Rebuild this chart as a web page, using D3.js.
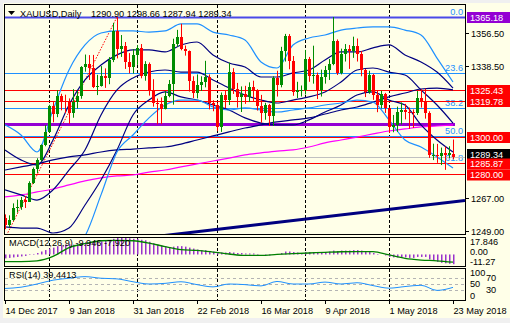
<!DOCTYPE html>
<html><head><meta charset="utf-8">
<script src="https://cdnjs.cloudflare.com/ajax/libs/d3/7.8.5/d3.min.js"></script>
<style>
body{margin:0;background:#f0f0f0}
svg{display:block}
text{font-family:"Liberation Sans",Arial,sans-serif;font-size:9.2px}
</style></head>
<body><svg id="c" width="510" height="323"></svg>
<script>
// ---- chart data -------------------------------------------------------
const symbol = "XAUUSD,Daily";
const quote = ["1290.90","1298.66","1287.94","1289.34"];
const dateLabels = ["14 Dec 2017","9 Jan 2018","31 Jan 2018","22 Feb 2018","16 Mar 2018","9 Apr 2018","1 May 2018","23 May 2018"];
const dateLabelBars = [0,16,32,48,64,80,96,112];
const monthStartBars = [11,33,53,75,96];

const opens = [1256.0,1252.5,1255.2,1261.5,1262.0,1265.8,1265.0,1274.8,1282.5,1287.5,1295.5,1302.8,1316.8,1312.5,1322.5,1319.8,1319.2,1312.8,1318.8,1322.5,
1338.0,1339.5,1337.5,1327.0,1327.6,1332.9,1332.2,1341.9,1357.6,1348.0,1349.3,1340.7,1338.1,1344.8,1348.3,1333.1,1339.6,1325.8,1318.3,1318.0,
1315.5,1322.2,1329.0,1350.5,1354.5,1347.6,1346.6,1330.5,1324.0,1328.5,1330.0,1332.5,1318.5,1317.5,1305.5,1323.0,1320.0,1335.5,1326.0,1321.5,
1323.6,1321.6,1327.4,1325.4,1317.1,1313.3,1317.4,1311.4,1332.0,1328.0,1346.8,1354.8,1341.5,1324.7,1325.4,1325.6,1342.6,1333.1,1333.6,1325.8,
1332.4,1336.4,1339.6,1352.4,1334.6,1345.2,1347.8,1346.8,1349.6,1345.3,1336.3,1324.2,1333.5,1322.9,1317.4,1323.3,1315.6,1305.4,1306.5,1313.6,
1314.6,1313.8,1313.5,1313.0,1321.4,1319.7,1313.0,1290.3,1290.5,1289.9,1291.1,1290.0,1290.9];
const highs = [1258.0,1257.5,1264.0,1266.0,1267.5,1268.0,1276.0,1283.5,1288.5,1296.0,1306.5,1317.5,1319.0,1325.5,1323.5,1323.0,1321.0,1326.0,1325.0,1338.5,
1344.8,1344.5,1344.6,1333.8,1338.5,1337.3,1343.4,1362.0,1365.2,1355.4,1351.6,1345.6,1347.8,1350.0,1350.5,1341.2,1340.5,1331.4,1320.9,1321.5,
1325.0,1331.0,1353.4,1358.2,1361.5,1349.7,1347.0,1333.0,1334.0,1333.0,1341.4,1334.0,1320.0,1318.6,1324.2,1325.0,1340.4,1337.4,1329.4,1327.5,
1327.8,1329.7,1330.6,1326.0,1322.9,1318.6,1318.0,1333.0,1336.0,1349.0,1356.0,1355.9,1344.0,1330.0,1328.0,1347.3,1343.5,1349.6,1335.0,1336.6,
1338.6,1342.4,1365.2,1353.0,1348.0,1350.5,1350.0,1354.5,1353.5,1346.7,1337.0,1336.0,1334.3,1325.0,1325.2,1324.0,1316.0,1312.0,1316.5,1318.8,
1318.0,1316.0,1315.0,1325.0,1326.0,1326.3,1314.0,1296.4,1296.3,1294.3,1294.8,1295.0,1298.66];
const lows = [1250.0,1251.0,1254.5,1259.0,1260.5,1261.5,1264.8,1274.5,1280.5,1286.8,1295.0,1302.5,1308.0,1310.8,1314.5,1313.0,1307.2,1310.5,1315.5,1320.8,
1335.5,1331.0,1326.6,1322.8,1327.4,1326.7,1328.7,1340.7,1342.7,1343.5,1337.0,1334.6,1334.5,1339.2,1331.9,1330.6,1322.5,1316.5,1306.9,1307.0,
1315.0,1321.6,1317.6,1349.0,1347.1,1344.2,1324.7,1321.2,1321.0,1325.0,1327.0,1315.0,1314.0,1303.3,1302.8,1315.7,1317.4,1323.4,1316.0,1313.6,
1318.0,1319.0,1319.6,1314.4,1307.8,1309.4,1306.0,1306.0,1322.0,1327.0,1341.0,1336.8,1322.4,1321.2,1322.0,1323.1,1330.0,1329.0,1320.6,1322.0,
1329.0,1331.0,1339.0,1333.7,1334.0,1341.0,1337.0,1343.0,1341.0,1333.0,1321.7,1323.5,1320.2,1313.5,1315.6,1313.1,1302.3,1302.6,1302.8,1306.8,
1309.6,1304.5,1305.0,1312.0,1316.0,1310.0,1288.7,1287.5,1286.0,1284.8,1282.2,1288.6,1287.94];
const closes = [1252.0,1255.2,1261.5,1262.0,1265.8,1265.0,1274.8,1282.5,1287.5,1295.5,1302.8,1316.8,1312.5,1322.5,1319.8,1319.2,1312.8,1318.8,1322.5,1338.0,
1339.5,1337.5,1327.0,1327.6,1332.9,1332.2,1341.9,1357.6,1348.0,1349.3,1340.7,1338.1,1344.8,1348.3,1333.1,1339.6,1325.8,1318.3,1318.0,1315.5,
1322.2,1329.0,1350.5,1354.5,1347.6,1346.6,1330.5,1324.0,1328.5,1330.0,1332.5,1318.5,1317.5,1305.5,1323.0,1320.0,1335.5,1326.0,1321.5,1323.6,
1321.6,1327.4,1325.4,1317.1,1313.3,1317.4,1311.4,1332.0,1328.0,1346.8,1354.8,1341.5,1324.7,1325.4,1325.6,1342.6,1333.1,1333.6,1325.8,1332.4,
1336.4,1339.6,1352.4,1334.6,1345.2,1347.8,1346.8,1349.6,1345.3,1336.3,1324.2,1333.5,1322.9,1317.4,1323.3,1315.6,1305.4,1306.5,1313.6,1314.6,
1313.8,1313.5,1313.0,1321.4,1319.7,1313.0,1290.3,1290.5,1289.9,1291.1,1290.0,1291.5,1289.34];

// indicator lines, one value every 4th bar (bars 0,4,...,112)
const lineStep = 4;
const bandUpperBlue = [1306.6,1301.1,1291.9,1314.7,1336.4,1350.0,1356.5,1357.6,1357.6,1357.0,1357.6,1361.4,1361.4,1357.0,1355.4,1352.7,1340.8,1337.5,1350.0,1353.8,1355.4,1358.1,1359.2,1359.8,1359.8,1358.1,1355.4,1342.9,1329.9];
const bandLowerBlue = [1238.7,1238.7,1237.6,1236.0,1238.7,1246.3,1268.6,1291.9,1301.1,1310.4,1317.4,1320.1,1320.1,1316.3,1314.7,1315.8,1314.7,1313.6,1314.7,1315.8,1317.4,1318.5,1320.1,1319.0,1309.3,1298.4,1294.6,1289.2,1283.2];
const bandUpperNavy = [1293.0,1287.6,1284.8,1298.4,1317.4,1331.0,1339.1,1344.6,1347.3,1347.3,1346.2,1350.0,1351.6,1344.6,1340.2,1338.0,1332.6,1332.6,1334.8,1336.4,1341.8,1346.2,1346.2,1348.4,1350.0,1344.6,1340.8,1335.3,1326.6];
const bandMidNavy = [1271.3,1268.6,1265.8,1271.3,1282.1,1293.0,1312.0,1325.6,1332.1,1335.3,1336.4,1335.3,1335.3,1331.0,1326.6,1322.8,1320.1,1318.5,1320.1,1321.8,1324.5,1329.9,1336.4,1337.5,1335.3,1333.7,1325.6,1317.4,1307.6];
const bandLowerNavy = [1251.2,1250.6,1250.6,1247.9,1250.6,1263.1,1276.7,1293.0,1312.0,1320.1,1324.5,1321.8,1320.1,1317.4,1314.7,1310.4,1307.6,1306.6,1306.6,1309.3,1313.6,1317.4,1322.8,1324.5,1320.1,1317.4,1306.6,1298.4,1291.9];
const maSlowNavy = [1282.1,1283.8,1285.4,1287.6,1289.2,1290.3,1291.9,1293.0,1293.5,1294.1,1294.6,1296.2,1298.4,1300.6,1302.8,1304.9,1306.6,1308.2,1309.3,1310.4,1312.5,1314.7,1316.3,1319.0,1321.8,1323.9,1326.1,1326.6,1325.6];
const maLongMagenta = [1267.5,1268.6,1270.2,1271.8,1274.0,1276.2,1277.8,1278.9,1279.4,1281.0,1282.1,1283.8,1285.4,1287.0,1288.6,1290.3,1291.4,1292.4,1293.0,1294.6,1296.8,1298.4,1300.0,1301.7,1303.3,1304.4,1305.5,1306.0,1306.6];

// drawn objects
const fiboLow = {bar:-2, price:1236.5};
const fiboHigh = {bar:28, price:1365.18};
const fiboLevels = [0, 23.6, 38.2, 50.0, 61.8];
const supportResistance = [1325.43, 1319.78, 1300.00, 1285.87, 1280.00];
const violetLevel = 1307.1;
const violetLevelEndBar = 112.5;
const trendStart = {bar:-2, price:1236.0};
const trendEnd = {bar:115, price:1265.5};
const priceTicks = ["1356.50","1338.50","1267.00","1249.00"];

// MACD(12,26,9)
const macdLabel = "MACD(12,26,9) -9.946 -7.920";
const macdMain = [-4,-3.5,-3,-2.5,-2,-1.5,-0.5,0.5,1.5,3,4.5,6,7,8.5,9.5,10,10.5,10,10.5,11.5,12.5,13,13,13,13.5,14,14.5,16,17,17.5,17,16.5,16,16,15,14.5,13,11.5,10,9,8,
7.5,8,8.5,8.5,8,7,6,5,4.5,4.5,3.5,3,2,2,2,2.5,2,1.5,1.5,1,1,1,0.5,0,-0.5,-1,0,0.5,1.5,3,3,2.5,2,1.5,2.5,2.5,2.5,2,2,2.5,
3,4,3.5,4,4,4,4.5,4.5,4,3,2.5,1.5,0.5,0,-1,-2.5,-3,-3,-3,-3,-3.5,-3.5,-2.5,-2.5,-2.5,-5,-6.5,-7.5,-8.5,-9,-9.5,-9.946];
const macdSignal = [-7.3,-7.3,-6.5,-2,7,11,14,14.5,14,11.7,8,5,4.2,2.5,0.5,-1,-1,0,0.8,1.5,2.2,2.8,3,2.9,-0.5,-4,-5.7,-6.5,-7.92];
const macdTicks = ["17.846","0.00","-11.27"];
const macdRange = [-11.27, 17.846];

// RSI(14)
const rsiLabel = "RSI(14) 39.4413";
const rsi = [36,40,50,62,68,73,68,66,57,50,52,57,48,41,50,48,44,58,50,50,56,50,54,45,37,42,46,30,39.44];
const rsiLevels = [70,50,30];
const rsiTicks = ["100","70","50","30","0"];

// ---- layout -----------------------------------------------------------
const svg = d3.select("#c");
const P = {l:4, r:465, t:4, b:234};
const M = {t:237, b:266};
const R = {t:268, b:300};
const BG = "#ffffe8";
const BLUE = "#1e90ff", NAVY = "#000080", RED = "#ff0000", GREEN = "#008c00";

const x = d3.scaleLinear().domain([0,112]).range([5,453]);
const y = d3.scaleLinear().domain([1247.37,1372.24]).range([P.b,P.t]);
const ym = d3.scaleLinear().domain(macdRange).range([M.b-0.5, M.t]);
const yr = d3.scaleLinear().domain([0,100]).range([R.b, R.t]);

svg.append("rect").attr("x",3).attr("y",3).attr("width",507).attr("height",315).attr("fill",BG);

const defs = svg.append("defs");
defs.append("clipPath").attr("id","cm").append("rect").attr("x",P.l+1).attr("y",P.t+1).attr("width",P.r-P.l-1).attr("height",P.b-P.t-1);
defs.append("clipPath").attr("id","cd").append("rect").attr("x",P.l+1).attr("y",M.t+1).attr("width",P.r-P.l-1).attr("height",M.b-M.t-1);

// month separators through all panels
const sep = svg.append("g").attr("stroke","#000").attr("stroke-dasharray","3,2").attr("stroke-width",1);
monthStartBars.forEach(b=>{
  const xx = Math.round(x(b))+0.5;
  [[P.t,P.b],[M.t,M.b],[R.t,R.b]].forEach(([a,c])=>sep.append("line").attr("x1",xx).attr("x2",xx).attr("y1",a+1).attr("y2",c));
});

const gm = svg.append("g").attr("clip-path","url(#cm)");
const hline = (p,col,w,x2) => gm.append("line").attr("x1",P.l).attr("x2",x2||P.r).attr("y1",Math.round(y(p))+0.5).attr("y2",Math.round(y(p))+0.5).attr("stroke",col).attr("stroke-width",w);

// fibonacci retracement
const fibRange = fiboHigh.price - fiboLow.price;
fiboLevels.forEach(l=>{
  const p = fiboHigh.price - fibRange*l/100;
  hline(p, l===0 ? "#4a4ae8" : BLUE, l===0 ? 2 : 1);
  gm.append("text").attr("x",P.r-2).attr("y",y(p)-2).attr("text-anchor","end").attr("fill",BLUE).attr("font-size","10px").text(l.toFixed(1));
});
gm.append("line").attr("x1",x(fiboLow.bar)).attr("y1",y(fiboLow.price)).attr("x2",x(fiboHigh.bar)).attr("y2",y(fiboHigh.price))
  .attr("stroke",RED).attr("stroke-dasharray","1.5,1.5");

supportResistance.forEach(p=>hline(p,RED,1));
hline(+quote[3], "#c0c0c0", 1);
hline(violetLevel, "#9400d3", 3, x(violetLevelEndBar));

// moving averages & bands
const lineGen = d3.line().x((d,i)=>x(i*lineStep)).y(d=>y(d)).curve(d3.curveMonotoneX);
[[maLongMagenta,"#ff00ff",1.2],[maSlowNavy,NAVY,1.2],[bandUpperNavy,NAVY,1.2],[bandMidNavy,NAVY,1.2],[bandLowerNavy,NAVY,1.2],
 [bandUpperBlue,BLUE,1.2],[bandLowerBlue,BLUE,1.2]].forEach(([d,c,w])=>{
  gm.append("path").attr("d",lineGen(d)).attr("fill","none").attr("stroke",c).attr("stroke-width",w);
});

// long trend line
gm.append("line").attr("x1",x(trendStart.bar)).attr("y1",y(trendStart.price)).attr("x2",x(trendEnd.bar)).attr("y2",y(trendEnd.price))
  .attr("stroke",NAVY).attr("stroke-width",3);

// candles
const candles = gm.append("g");
closes.forEach((c,i)=>{
  const o=opens[i], h=highs[i], l=lows[i];
  const col = c>=o ? GREEN : RED;
  const cx = Math.round(x(i));
  candles.append("line").attr("x1",cx+0.5).attr("x2",cx+0.5).attr("y1",y(h)).attr("y2",y(l)).attr("stroke",col);
  const top = Math.round(y(Math.max(o,c))), bot = Math.round(y(Math.min(o,c)));
  candles.append("rect").attr("x",cx-1).attr("y",top).attr("width",3).attr("height",Math.max(1,bot-top)).attr("fill",col);
});

// MACD
const gd = svg.append("g").attr("clip-path","url(#cd)");
macdMain.forEach((v,i)=>{
  const cx = Math.round(x(i));
  gd.append("rect").attr("x",cx).attr("width",1.5).attr("y",Math.min(ym(0),ym(v))).attr("height",Math.abs(ym(v)-ym(0))).attr("fill","#9932cc");
});
gd.append("path").attr("d",d3.line().x((d,i)=>x(i*lineStep)).y(d=>ym(d)).curve(d3.curveMonotoneX)(macdSignal))
  .attr("fill","none").attr("stroke","#008000").attr("stroke-width",1.3);

// RSI
const gr = svg.append("g");
rsiLevels.forEach(v=>gr.append("line").attr("x1",P.l+1).attr("x2",P.r).attr("y1",Math.round(yr(v))+0.5).attr("y2",Math.round(yr(v))+0.5)
  .attr("stroke","#b4b4b4").attr("stroke-dasharray","3,3"));
gr.append("path").attr("d",d3.line().x((d,i)=>x(i*lineStep)).y(d=>yr(d)).curve(d3.curveMonotoneX)(rsi))
  .attr("fill","none").attr("stroke",BLUE).attr("stroke-width",1);

// panel borders
[[P.t,P.b],[M.t,M.b],[R.t,R.b]].forEach(([a,c])=>svg.append("rect").attr("x",P.l+0.5).attr("y",a+0.5).attr("width",P.r-P.l).attr("height",c-a)
  .attr("fill","none").attr("stroke","#000"));

// price axis
const ax = svg.append("g");
priceTicks.forEach(t=>{
  const yy = Math.round(y(+t))+0.5;
  ax.append("line").attr("x1",P.r).attr("x2",P.r+4).attr("y1",yy).attr("y2",yy).attr("stroke","#000");
  ax.append("text").attr("x",P.r+6).attr("y",yy).attr("dy","0.35em").text(t);
});
// value tags on the price scale; the last-price tag sits just above the tag that covers it
const tag = (p,fill,label,shift) => {
  const yy = Math.round(y(p)) + (shift||0);
  ax.append("rect").attr("x",P.r+2).attr("y",yy-5).attr("width",510-P.r-2).attr("height",11).attr("fill",fill);
  ax.append("text").attr("x",P.r+5).attr("y",yy+0.5).attr("dy","0.35em").attr("fill","#fff").attr("font-size","8.8px").text(label);
};
tag(fiboHigh.price,"#9400d3",fiboHigh.price.toFixed(2));
supportResistance.slice(0,3).forEach(p=>tag(p,RED,p.toFixed(2)));
tag(+quote[3],"#000",quote[3],-3);
supportResistance.slice(3).forEach((p,i)=>tag(p,RED,p.toFixed(2),i===0?0.5:0.5));

// sub-window scales: stacked tightly in the narrow panels
const macdTickY = [242,252,262];
macdTicks.forEach((t,i)=>ax.append("text").attr("x",P.r+5).attr("y",macdTickY[i]).attr("dy","0.35em").attr("font-size","8.5px").text(t));
const rsiTickPos = [{x:470,y:272.5},{x:486,y:278},{x:470,y:284},{x:486,y:290},{x:470,y:295.5}];
rsiTicks.forEach((t,i)=>ax.append("text").attr("x",rsiTickPos[i].x).attr("y",rsiTickPos[i].y).attr("dy","0.35em").attr("font-size","8.5px").text(t));

// time axis
dateLabelBars.forEach((b,i)=>{
  const xx = Math.round(x(b))+0.5;
  ax.append("line").attr("x1",xx).attr("x2",xx).attr("y1",R.b).attr("y2",R.b+4).attr("stroke","#000");
  ax.append("text").attr("x",xx).attr("y",314).text(dateLabels[i]);
});

// titles
svg.append("path").attr("d","M8,11 L15,11 L11.5,15 Z").attr("fill","#000");
svg.append("text").attr("x",20).attr("y",17).text(symbol);
svg.append("text").attr("x",91).attr("y",17).text(quote.join(" "));
svg.append("text").attr("x",9).attr("y",246).text(macdLabel);
svg.append("text").attr("x",9).attr("y",278).text(rsiLabel);
</script></body></html>
